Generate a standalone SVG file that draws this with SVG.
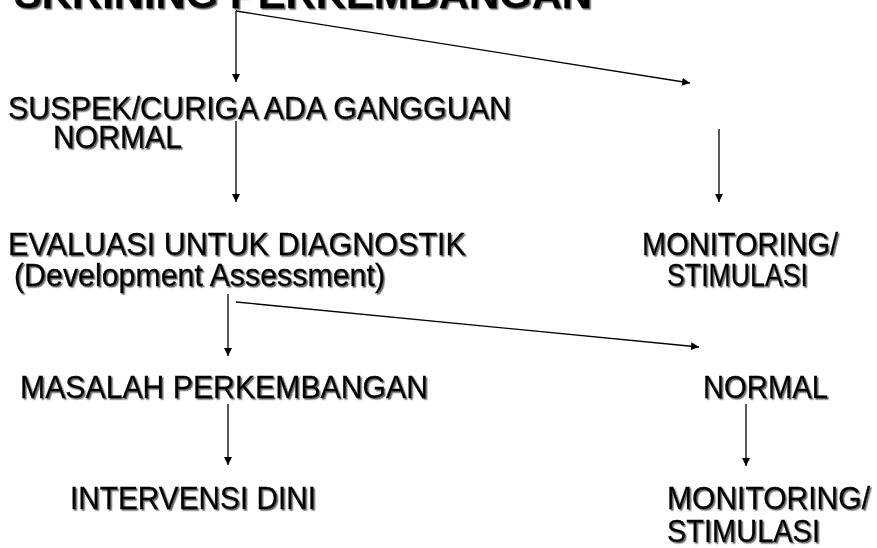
<svg xmlns="http://www.w3.org/2000/svg" width="877" height="548" viewBox="0 0 877 548">
<defs>
<filter id="sh" x="-5%" y="-20%" width="110%" height="150%">
<feDropShadow dx="1.5" dy="1.5" stdDeviation="0.7" flood-color="#555" flood-opacity="0.9"/>
</filter>
<marker id="ah" viewBox="0 0 10 10" refX="10" refY="5" markerWidth="8" markerHeight="8" markerUnits="userSpaceOnUse" orient="auto">
<path d="M0,0 L10,5 L0,10 z" fill="#000"/>
</marker>
</defs>
<style>
text{font-family:"Liberation Sans",Arial,sans-serif;font-size:31px;fill:#000;stroke:#000;stroke-width:0.3;filter:url(#sh)}
.t{font-weight:bold;font-size:40px}
.c line{stroke:#000;stroke-width:1.3;marker-end:url(#ah)}
</style>
<rect width="877" height="548" fill="#fff"/>
<g id="title"><text class="t" x="14" y="8" textLength="578" lengthAdjust="spacingAndGlyphs">SKRINING PERKEMBANGAN</text></g>
<g id="suspek">
<text x="8" y="119" textLength="503" lengthAdjust="spacingAndGlyphs">SUSPEK/CURIGA ADA GANGGUAN</text>
<text x="53" y="148" textLength="129" lengthAdjust="spacingAndGlyphs">NORMAL</text>
</g>
<g id="evaluasi">
<text x="8" y="255" textLength="458" lengthAdjust="spacingAndGlyphs">EVALUASI UNTUK DIAGNOSTIK</text>
<text x="14" y="286" textLength="371" lengthAdjust="spacingAndGlyphs">(Development Assessment)</text>
</g>
<g id="monitoring1">
<text x="642" y="255" textLength="196" lengthAdjust="spacingAndGlyphs">MONITORING/</text>
<text x="667" y="286" textLength="141" lengthAdjust="spacingAndGlyphs">STIMULASI</text>
</g>
<g id="masalah"><text x="20" y="398" textLength="408" lengthAdjust="spacingAndGlyphs">MASALAH PERKEMBANGAN</text></g>
<g id="normal"><text x="703" y="398" textLength="125" lengthAdjust="spacingAndGlyphs">NORMAL</text></g>
<g id="intervensi"><text x="70" y="509" textLength="246" lengthAdjust="spacingAndGlyphs">INTERVENSI DINI</text></g>
<g id="monitoring2">
<text x="667" y="509" textLength="203" lengthAdjust="spacingAndGlyphs">MONITORING/</text>
<text x="667" y="542" textLength="153" lengthAdjust="spacingAndGlyphs">STIMULASI</text>
</g>
<g id="connectors" class="c">
<line x1="236" y1="11" x2="236" y2="82"/>
<line x1="236" y1="11" x2="690" y2="83"/>
<line x1="236" y1="121" x2="236" y2="202"/>
<line x1="719" y1="129" x2="719" y2="202"/>
<line x1="228" y1="294" x2="228" y2="356"/>
<line x1="236" y1="302" x2="699" y2="347"/>
<line x1="228" y1="404" x2="228" y2="465"/>
<line x1="746" y1="404" x2="746" y2="466"/>
</g>
</svg>
